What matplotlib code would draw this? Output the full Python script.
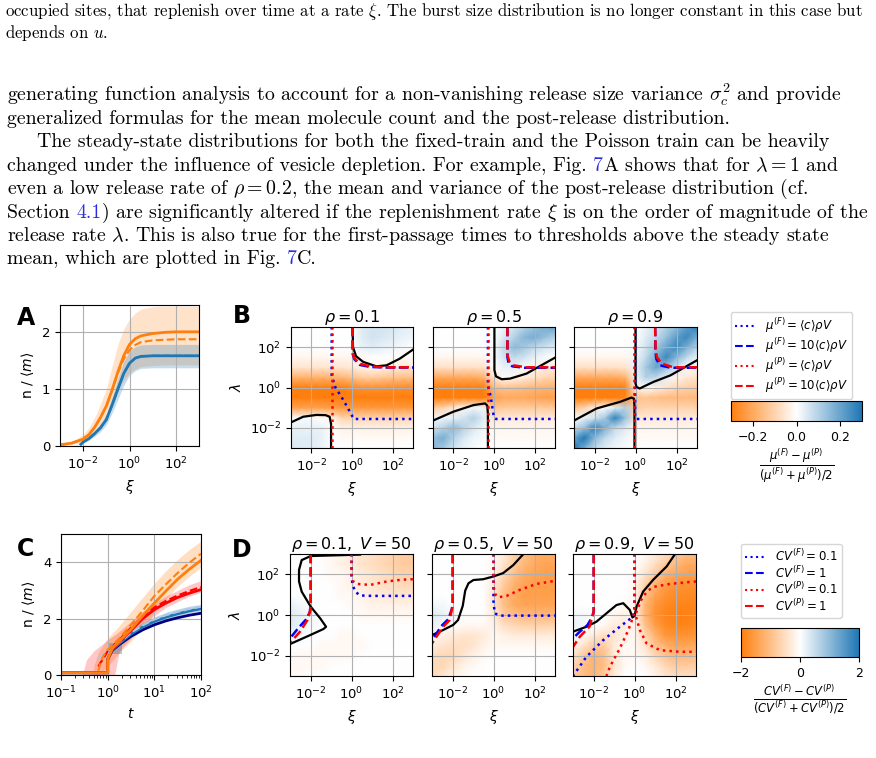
import numpy as np
import matplotlib
matplotlib.use('Agg')
import matplotlib.pyplot as plt
from matplotlib import ticker
from matplotlib.colors import LinearSegmentedColormap, Normalize
from matplotlib.cm import ScalarMappable
from matplotlib.lines import Line2D

# ---------------- page text ----------------
link_blue = '#2b2be0'
caption_size = 12.15
body_size = 14.3
text_lines = [
    (16, 5, caption_size, [("occupied sites, that replenish over time at a rate $\\xi$. The burst size distribution is no longer constant in this case but", 'k')]),
    (38, 5, caption_size, [("depends on $u$.", 'k')]),
    (101, 7, body_size, [("generating function analysis to account for a non-vanishing release size variance $\\sigma_c^2$ and provide", 'k')]),
    (124, 7, body_size, [("generalized formulas for the mean molecule count and the post-release distribution.", 'k')]),
    (147, 37, body_size, [("The steady-state distributions for both the fixed-train and the Poisson train can be heavily", 'k')]),
    (171, 7, body_size, [("changed under the influence of vesicle depletion. For example, Fig. ", 'k'), ("7", link_blue),
                         ("A shows that for $\\lambda = 1$ and", 'k')]),
    (194, 7, body_size, [("even a low release rate of $\\rho = 0.2$, the mean and variance of the post-release distribution (cf.", 'k')]),
    (218, 7, body_size, [("Section ", 'k'), ("4.1", link_blue),
                         (") are significantly altered if the replenishment rate $\\xi$ is on the order of magnitude of the", 'k')]),
    (241, 7, body_size, [("release rate $\\lambda$. This is also true for the first-passage times to thresholds above the steady state", 'k')]),
    (264, 7, body_size, [("mean, which are plotted in Fig. ", 'k'), ("7", link_blue), ("C.", 'k')]),
]

# ---------------- panel A: n/<m> vs xi (log10 xi) ----------------
a_x = [-3, -2.5, -2, -1.75, -1.5, -1.25, -1, -0.75, -0.5, -0.25, 0, 0.25, 0.5, 1, 1.5, 2, 3]
a_orange = [0.02, 0.05, 0.12, 0.2, 0.33, 0.5, 0.7, 0.98, 1.3, 1.58, 1.78, 1.88, 1.93, 1.97, 1.99, 2.0, 2.0]
a_orange_dash = [0.02, 0.05, 0.12, 0.2, 0.33, 0.5, 0.7, 0.98, 1.28, 1.52, 1.68, 1.77, 1.82, 1.85, 1.86, 1.87, 1.87]
a_orange_hi = [0.03, 0.08, 0.2, 0.32, 0.5, 0.74, 1.0, 1.4, 1.78, 2.05, 2.22, 2.33, 2.4, 2.44, 2.45, 2.45, 2.45]
a_orange_lo = [0.01, 0.03, 0.07, 0.12, 0.2, 0.31, 0.45, 0.68, 0.95, 1.15, 1.28, 1.35, 1.39, 1.41, 1.42, 1.42, 1.42]
a_bx = [-2.1, -2, -1.75, -1.5, -1.25, -1, -0.75, -0.5, -0.25, 0, 0.25, 0.5, 1, 2, 3]
a_blue = [0.03, 0.07, 0.13, 0.22, 0.32, 0.46, 0.72, 1.0, 1.27, 1.45, 1.54, 1.57, 1.58, 1.58, 1.58]
a_blue_hi = [0.04, 0.09, 0.16, 0.27, 0.4, 0.56, 0.86, 1.18, 1.48, 1.66, 1.74, 1.77, 1.78, 1.78, 1.78]
a_blue_lo = [0.02, 0.05, 0.1, 0.17, 0.25, 0.37, 0.58, 0.82, 1.06, 1.24, 1.32, 1.36, 1.37, 1.37, 1.37]

# ---------------- panel C: n/<m> vs t (log10 t) ----------------
c_x = [-1, 0, 0, 0.1, 0.25, 0.5, 0.75, 1.0, 1.25, 1.5, 1.75, 2.0]
c_orange = [0.08, 0.08, 0.55, 0.95, 1.2, 1.62, 2.1, 2.55, 2.98, 3.4, 3.75, 4.07]
c_red = [0.08, 0.08, 0.55, 0.92, 1.18, 1.58, 2.0, 2.32, 2.55, 2.75, 2.9, 3.03]
c_blue = [0.08, 0.08, 0.55, 0.9, 1.12, 1.45, 1.7, 1.9, 2.05, 2.17, 2.27, 2.35]
c_navy = [0.08, 0.08, 0.55, 0.88, 1.08, 1.37, 1.6, 1.78, 1.92, 2.03, 2.12, 2.19]
c_dx = [-0.2, -0.15, -0.1, 0, 0.1, 0.25, 0.5, 0.75, 1.0, 1.25, 1.5, 1.75, 2.0]
c_orange_dash = [0.15, 0.45, 0.65, 0.9, 1.05, 1.3, 1.78, 2.28, 2.8, 3.22, 3.62, 3.98, 4.3]
c_red_dash = [0.3, 0.45, 0.55, 0.85, 1.0, 1.25, 1.68, 2.08, 2.4, 2.63, 2.82, 2.98, 3.12]
c_blue_dash = [0.6, 0.65, 0.7, 0.75, 0.92, 1.15, 1.5, 1.76, 1.97, 2.12, 2.24, 2.34, 2.42]
c_obx = [-0.3, -0.2, 0, 0.25, 0.5, 0.75, 1.0, 1.25, 1.5, 1.75, 2.0]
c_orange_hi = [0.3, 0.8, 1.3, 1.75, 2.25, 2.75, 3.25, 3.7, 4.1, 4.45, 4.75]
c_orange_lo = [0, 0, 0.3, 0.8, 1.2, 1.65, 2.2, 2.7, 3.15, 3.5, 3.82]
c_rbx = [-0.545, -0.45, -0.3, -0.15, 0, 0.15, 0.25, 0.5, 0.75, 1.0, 1.25, 1.5, 1.75, 2.0]
c_red_hi = [0, 0.55, 0.85, 1.05, 1.25, 1.42, 1.55, 1.9, 2.25, 2.55, 2.8, 3.0, 3.2, 3.35]
c_red_lo = [0, 0, 0, 0, 0, 0, 0.85, 1.3, 1.75, 2.1, 2.4, 2.6, 2.8, 2.94]
c_bbx = [0, 0.25, 0.5, 0.75, 1.0, 1.25, 1.5, 1.75, 2.0]
c_blue_lo = [0.7, 1.05, 1.38, 1.62, 1.82, 1.97, 2.1, 2.2, 2.27]
c_blue_hi = [0.95, 1.22, 1.58, 1.85, 2.06, 2.22, 2.34, 2.44, 2.5]
c_box_x = [0, 0.3]
c_box_lo = [0.76, 0.76]
c_box_hi = [1.12, 1.12]

# ---------------- heat maps (log10 grid nodes, rows from lambda=1e3 down) ----------------
grid_exp = [-3, -2.5, -2, -1.5, -1, -0.5, 0, 0.5, 1, 1.5, 2, 2.5, 3]

b1_vals = [  # x100
    [0, 0, 0, 0, 0, 0, 0, 4, 6, 6, 5, 4, 3],
    [0, 0, 0, 0, 0, 0, 0, 4, 6, 5, 4, 3, 2],
    [0, 0, 0, 0, 0, 0, 0, 3, 4, 3, 2, 1, 0],
    [-2, -2, -2, -2, -2, -2, -2, -1, 0, 0, 0, -1, -1],
    [-6, -6, -6, -6, -6, -6, -5, -3, -2, -3, -4, -5, -5],
    [-18, -18, -18, -18, -18, -17, -15, -12, -12, -13, -14, -15, -15],
    [-30, -30, -30, -30, -30, -30, -28, -26, -26, -26, -27, -27, -27],
    [-36, -36, -36, -36, -36, -36, -34, -32, -32, -32, -32, -32, -32],
    [-22, -22, -22, -22, -23, -24, -24, -24, -24, -24, -24, -24, -24],
    [1, 1, 1, 0, -3, -10, -10, -10, -10, -10, -10, -10, -10],
    [3, 3, 3, 3, 0, -3, -3, -3, -3, -3, -3, -3, -3],
    [4, 4, 4, 3, 0, -1, -1, -1, -1, -1, -1, -1, -1],
    [5, 4, 4, 3, 0, 0, 0, 0, 0, 0, 0, 0, 0],
]
b2_vals = [
    [0, 0, 0, 0, 0, 0, 0, 3, 6, 10, 14, 18, 20],
    [0, 0, 0, 0, 0, 0, 0, 5, 10, 16, 18, 14, 10],
    [0, 0, 0, 0, 0, 0, 1, 8, 15, 12, 8, 6, 4],
    [-2, -2, -2, -2, -2, -2, 1, 6, 8, 6, 3, 1, 0],
    [-7, -7, -7, -7, -7, -7, 0, 3, 3, 1, -2, -4, -5],
    [-20, -20, -20, -20, -20, -18, -6, -1, -2, -4, -7, -9, -10],
    [-32, -32, -32, -32, -32, -30, -16, -14, -15, -16, -17, -18, -18],
    [-36, -36, -36, -36, -36, -34, -22, -20, -20, -20, -21, -22, -22],
    [-12, -10, -6, -1, 2, 2, -14, -12, -12, -12, -12, -12, -12],
    [2, 2, 3, 6, 10, 4, -6, -5, -5, -5, -5, -5, -5],
    [6, 10, 15, 10, 5, 2, -2, -2, -2, -2, -2, -2, -2],
    [14, 18, 10, 5, 2, 1, -1, -1, -1, -1, -1, -1, -1],
    [16, 12, 6, 3, 1, 0, 0, 0, 0, 0, 0, 0, 0],
]
b3_vals = [
    [0, 0, 0, 0, 0, 0, 0, 3, 6, 10, 15, 22, 28],
    [0, 0, 0, 0, 0, 0, 0, 4, 8, 14, 22, 26, 18],
    [0, 0, 0, 0, 0, 0, 1, 6, 12, 20, 26, 18, 10],
    [-2, -2, -2, -2, -2, -2, 2, 8, 18, 26, 16, 8, 3],
    [-7, -7, -7, -7, -7, -6, 3, 12, 20, 14, 6, 1, -2],
    [-20, -20, -20, -20, -20, -18, 2, 10, 8, 3, -2, -5, -7],
    [-32, -32, -32, -32, -32, -30, -4, 0, -3, -6, -9, -11, -12],
    [-36, -36, -36, -36, -34, -28, -14, -14, -15, -16, -16, -16, -16],
    [-14, -10, -4, 0, 4, 10, -12, -10, -10, -10, -10, -10, -10],
    [0, 3, 6, 12, 28, 14, -5, -5, -5, -5, -5, -5, -5],
    [8, 14, 28, 18, 8, 4, -2, -2, -2, -2, -2, -2, -2],
    [20, 30, 16, 8, 4, 2, -1, -1, -1, -1, -1, -1, -1],
    [30, 18, 8, 4, 2, 1, 0, 0, 0, 0, 0, 0, 0],
]
d1_vals = [  # x10
    [0, 0, 0, 0, -1, -2, -3, -4, -5, -6, -7, -8, -8],
    [0, 0, 0, 0, -1, -2, -3, -4, -5, -6, -7, -8, -8],
    [0, 0, 0, 0, -1, -1, -2, -3, -4, -5, -6, -7, -7],
    [0, 0, 0, 0, 0, -1, -2, -3, -4, -5, -5, -6, -6],
    [0, 0, 0, 0, 0, -1, -1, -2, -3, -3, -4, -4, -4],
    [2, 1, 0, 0, 0, 0, -1, -1, -2, -2, -2, -2, -2],
    [3, 2, 1, 0, 0, 0, 0, -1, -1, -1, -1, -1, -1],
    [3, 2, 1, 0, 0, 0, 0, 0, 0, 0, 0, 0, 0],
    [1, 1, 0, 0, 0, -1, -1, 0, 0, 0, 0, 0, 0],
    [0, 0, 0, -1, -1, -1, -1, -1, 0, 0, 0, 0, 0],
    [-1, -1, -1, -1, -1, -1, -1, 0, 0, 0, 0, 0, 0],
    [-1, -1, -1, -1, 0, 0, 0, 0, 0, 0, 0, 0, 0],
    [-1, -1, 0, 0, 0, 0, 0, 0, 0, 0, 0, 0, 0],
]
d2_vals = [
    [0, 0, 0, 0, 0, 0, -1, -3, -7, -10, -12, -13, -13],
    [0, 0, 0, 0, 0, 0, -1, -4, -8, -11, -13, -14, -14],
    [0, 0, 0, 0, 0, 0, -2, -6, -10, -13, -14, -15, -15],
    [0, 0, 0, 0, 0, 0, -3, -8, -12, -14, -15, -15, -15],
    [0, 0, 0, 0, 0, 0, -4, -10, -13, -15, -15, -15, -15],
    [1, 1, 0, 0, 0, 0, -4, -10, -13, -14, -14, -14, -14],
    [3, 2, 1, 0, 0, 0, -3, -8, -10, -11, -11, -11, -11],
    [2, 1, 0, -1, -1, -1, -2, -5, -6, -7, -7, -7, -7],
    [-1, -2, -3, -4, -4, -3, -1, -2, -3, -3, -3, -3, -3],
    [-3, -4, -5, -5, -4, -2, -1, -1, -1, -1, -1, -1, -1],
    [-5, -6, -6, -4, -2, -1, 0, 0, 0, 0, 0, 0, 0],
    [-6, -6, -4, -2, -1, 0, 0, 0, 0, 0, 0, 0, 0],
    [-6, -4, -2, -1, 0, 0, 0, 0, 0, 0, 0, 0, 0],
]
d3_vals = [
    [0, 0, 0, 0, 0, 0, 0, -1, -3, -5, -8, -10, -11],
    [0, 0, 0, 0, 0, 0, 0, -2, -5, -8, -11, -13, -13],
    [0, 0, 0, 0, 0, 0, -1, -4, -8, -12, -14, -15, -15],
    [0, 0, 0, 0, 0, 0, -1, -7, -12, -15, -17, -17, -17],
    [0, 0, 0, 0, 0, 0, -1, -9, -14, -17, -18, -18, -18],
    [0, 0, 0, 0, 0, -1, -1, -11, -16, -18, -19, -19, -19],
    [1, 1, 0, 0, -1, -2, -1, -11, -17, -19, -20, -20, -19],
    [2, 1, 0, -1, -3, -3, -1, -9, -15, -18, -19, -19, -18],
    [1, -1, -3, -5, -4, -2, -1, -6, -12, -16, -17, -17, -16],
    [-2, -4, -8, -8, -3, -1, -1, -4, -9, -12, -14, -14, -13],
    [-4, -8, -12, -10, -3, -1, -1, -2, -6, -9, -11, -11, -10],
    [-6, -10, -12, -10, -4, -1, 0, -1, -3, -6, -8, -8, -7],
    [-8, -10, -12, -8, -3, 0, 0, 0, -2, -4, -5, -5, -5],
]

# contour-like curves per panel: (colour, style, log10 xi, log10 lambda)
b_curves = [
    [('k', '-', [-3, -2.4, -1.75, -1.3, -1.1, -1.03, -1.03], [-1.73, -1.45, -1.36, -1.37, -1.45, -1.8, -3]),
     ('k', '-', [0.03, 0.05, 0.2, 0.55, 1.2, 1.7, 2.35, 3], [3, 2.0, 1.55, 1.27, 1.05, 1.1, 1.43, 1.88]),
     ('blue', ':', [-1.0, -1.0, -0.98, -0.83, -0.42, 0.03, 0.1, 3], [3, 0.6, 0.53, 0.03, -0.63, -1.45, -1.56, -1.56]),
     ('blue', '--', [0.03, 0.03, 0.12, 0.39, 0.88, 1.7, 3], [3, 1.68, 1.4, 1.12, 1.02, 0.99, 0.99]),
     ('red', ':', [-1.0, -1.0], [-3, 3]),
     ('red', '--', [0.03, 0.03, 0.12, 0.39, 0.88, 1.7, 3], [3, 1.7, 1.45, 1.18, 1.05, 1.0, 1.0])],
    [('k', '-', [-3, -2, -1, -0.44, -0.33, -0.3, -0.3], [-1.64, -1.2, -0.87, -0.79, -0.9, -1.3, -3]),
     ('k', '-', [0.02, 0.02, 0.1, 0.38, 0.79, 1.6, 3], [3, 0.86, 0.55, 0.41, 0.44, 0.69, 1.48]),
     ('blue', ':', [-0.3, -0.3, -0.16, -0.05, 0.0, 0.1, 3], [3, 0.1, -0.46, -1.2, -1.5, -1.56, -1.56]),
     ('blue', '--', [0.66, 0.66, 0.72, 0.9, 1.5, 3], [3, 1.5, 1.2, 1.05, 0.98, 0.98]),
     ('red', ':', [-0.3, -0.3], [-3, 3]),
     ('red', '--', [0.66, 0.66, 0.75, 0.95, 1.6, 3], [3, 1.6, 1.3, 1.1, 1.0, 1.0])],
    [('k', '-', [-3, -1.9, -0.75, -0.2, -0.08, -0.05, -0.05], [-1.64, -1.04, -0.71, -0.5, -0.55, -0.9, -3]),
     ('k', '-', [0.0, 0.0, 0.05, 0.2, 0.88, 1.7, 3], [3, 0.2, 0.03, -0.05, 0.28, 0.6, 1.35]),
     ('blue', ':', [-0.02, -0.02, 0.05, 3], [3, -1.45, -1.56, -1.56]),
     ('blue', '--', [0.96, 0.97, 1.02, 1.2, 1.7, 3], [3, 1.8, 1.4, 1.1, 0.98, 0.98]),
     ('red', ':', [-0.05, -0.05], [-3, 3]),
     ('red', '--', [0.96, 0.98, 1.05, 1.29, 1.86, 3], [3, 1.9, 1.5, 1.18, 1.0, 1.0])],
]
d_curves = [
    [('k', '-', [0.42, -1.99, -2.43, -2.56, -2.56, -2.43, -1.99, -1.53, -1.24, -1.37, -2.02, -3],
      [2.97, 2.9, 2.7, 2.22, 1.65, 1.15, 0.41, -0.16, -0.58, -0.69, -0.99, -1.43]),
     ('blue', ':', [0.0, 0.0, 0.05, 0.18, 0.42, 1.0, 3], [3, 1.9, 1.5, 1.15, 0.96, 0.94, 0.94]),
     ('blue', '--', [-1.99, -1.99, -2.03, -2.2, -2.6, -3], [3, 0.6, 0.15, -0.2, -0.65, -1.15]),
     ('red', ':', [0.0, 0.0, 0.08, 0.26, 0.91, 1.73, 2.38, 3], [3, 2.0, 1.65, 1.53, 1.48, 1.65, 1.73, 1.76]),
     ('red', '--', [-1.99, -1.99, -2.02, -2.15, -2.51, -3], [3, 0.6, 0.2, -0.25, -0.82, -1.37])],
    [('k', '-', [-3, -2.46, -1.97, -1.73, -1.5, -1.38, -1.22, -0.98, -0.5, -0.02, 0.47, 0.96, 1.46],
      [-0.99, -0.74, -0.49, -0.25, 0.45, 1.2, 1.56, 1.72, 1.76, 1.89, 2.06, 2.45, 3]),
     ('blue', ':', [0.0, 0.0, 0.07, 0.3, 3], [3, 0.58, 0.08, -0.03, -0.03]),
     ('blue', '--', [-1.99, -1.99, -2.03, -2.2, -2.55, -3], [3, 0.6, 0.3, -0.2, -0.55, -1.25]),
     ('red', ':', [0.0, 0.0, 0.1, 0.23, 0.64, 1.29, 2.11, 3], [3, 1.4, 1.0, 0.87, 0.94, 1.24, 1.53, 1.68]),
     ('red', '--', [-1.99, -1.99, -2.02, -2.14, -2.46, -3], [3, 0.6, 0.33, -0.25, -0.58, -1.4])],
    [('k', '-', [-3, -2.35, -1.86, -1.37, -0.88, -0.55, -0.23, -0.1, 0.0, 0.1, 0.42, 0.91, 1.57, 1.98],
      [-0.82, -0.58, -0.33, 0.08, 0.49, 0.58, 0.25, -0.12, -0.05, 0.41, 1.15, 1.73, 2.39, 3]),
     ('blue', ':', [0.0, 0.0, -0.07, -0.72, -1.53, -2.35, -3], [3, 0.25, -0.08, -0.58, -1.24, -2.06, -3.0]),
     ('blue', '--', [-1.99, -1.99, -2.06, -2.3, -2.7, -3], [3, 0.2, -0.1, -0.5, -0.85, -1.15]),
     ('red', ':', [0.0, 0.0, -0.05, -0.3, -0.72, -1.2, -1.37], [3, 0.3, -0.05, -0.74, -1.65, -2.55, -3]),
     ('red', ':', [0.08, 0.26, 0.59, 1.24, 2.22, 3], [-0.1, -0.74, -1.4, -1.73, -1.81, -1.81]),
     ('red', ':', [0.08, 0.3, 0.6, 0.91, 1.73, 2.55, 3], [0.1, 0.7, 1.15, 1.38, 1.53, 1.61, 1.65]),
     ('red', '--', [-1.99, -1.99, -2.05, -2.2, -2.67, -3], [3, 0.2, -0.08, -0.58, -1.07, -1.57])],
]
b_titles = [r'$\rho = 0.1$', r'$\rho = 0.5$', r'$\rho = 0.9$']
d_titles = [r'$\rho = 0.1,\ V = 50$', r'$\rho = 0.5,\ V = 50$', r'$\rho = 0.9,\ V = 50$']
b_legend = [r'$\mu^{(F)} = \langle c\rangle\rho V$', r'$\mu^{(F)} = 10\langle c\rangle\rho V$',
            r'$\mu^{(P)} = \langle c\rangle\rho V$', r'$\mu^{(P)} = 10\langle c\rangle\rho V$']
d_legend = [r'$CV^{(F)} = 0.1$', r'$CV^{(F)} = 1$', r'$CV^{(P)} = 0.1$', r'$CV^{(P)} = 1$']
b_cbar_ticks = [-0.2, 0.0, 0.2]
d_cbar_ticks = [-2, 0, 2]

# ---------------- figure ----------------
plt.rcParams['xtick.labelsize'] = 9.5
plt.rcParams['ytick.labelsize'] = 9.5
plt.rcParams['grid.color'] = '#b0b0b0'
plt.rcParams['grid.linewidth'] = 0.8

W, H = 876, 758
fig = plt.figure(figsize=(W / 100, H / 100), dpi=100)
renderer = fig.canvas.get_renderer()
orange, blue = '#ff7f0e', '#1f77b4'
cmap = LinearSegmentedColormap.from_list('ow_b', [orange, 'white', blue])


def px_axes(x0, y0, x1, y1):
    return fig.add_axes([x0 / W, 1 - y1 / H, (x1 - x0) / W, (y1 - y0) / H])


def text_width(s, size):
    t = fig.text(0, 0, s, fontsize=size, family='cmr10', math_fontfamily='cm')
    w = t.get_window_extent(renderer).width
    t.remove()
    return w


# each line: segments placed left to right; the start of a segment is found by
# measuring the preceding text plus the segment's first (plain) character
for base, x0, size, parts in text_lines:
    prefix = ''
    for s, col in parts:
        if prefix:
            c = s[0]
            left = x0 + text_width(prefix + c, size) - text_width(c, size)
        else:
            left = x0
        fig.text(left / W, 1 - base / H, s, fontsize=size, family='cmr10',
                 math_fontfamily='cm', color=col, ha='left', va='baseline')
        prefix += s


def pow10(v):
    return 10 ** np.asarray(v, dtype=float)


def log_axes_style(ax, base=100):
    ax.set_xscale('log')
    ax.xaxis.set_major_locator(ticker.LogLocator(base=base))
    ax.xaxis.set_minor_locator(ticker.NullLocator())
    ax.grid(True)


# panel A
axA = px_axes(60, 305, 199, 446)
log_axes_style(axA)
axA.fill_between(pow10(a_x), a_orange_lo, a_orange_hi, color=orange, alpha=0.22, lw=0)
axA.fill_between(pow10(a_bx), a_blue_lo, a_blue_hi, color=blue, alpha=0.25, lw=0)
axA.plot(pow10(a_bx), a_blue, color=blue, lw=2)
axA.plot(pow10(a_bx), a_blue, color=blue, lw=1.5, ls='--')
axA.plot(pow10(a_x), a_orange, color=orange, lw=2)
axA.plot(pow10(a_x), a_orange_dash, color=orange, lw=1.5, ls='--')
axA.set_xlim(1e-3, 1e3)
axA.set_ylim(0, 2.47)
axA.set_yticks([0, 1, 2])
axA.set_xlabel(r'$\xi$', fontsize=10)
axA.set_ylabel(r'n / $\langle m\rangle$', fontsize=10)

# panel C
axC = px_axes(61, 534, 201, 675)
axC.set_xscale('log')
axC.grid(True, which='major')
axC.fill_between(pow10(c_obx), c_orange_lo, c_orange_hi, color=orange, alpha=0.25, lw=0)
axC.fill_between(pow10(c_rbx), c_red_lo, c_red_hi, color='red', alpha=0.22, lw=0)
axC.fill_between(pow10(c_bbx), c_blue_lo, c_blue_hi, color=blue, alpha=0.3, lw=0)
axC.fill_between(pow10(c_box_x), c_box_lo, c_box_hi, color=blue, alpha=0.35, lw=0)
axC.plot(pow10(c_x), c_navy, color='navy', lw=2)
axC.plot(pow10(c_x), c_blue, color=blue, lw=2)
axC.plot(pow10(c_dx), c_blue_dash, color='#aec7e8', lw=1.5, ls='--')
axC.plot(pow10(c_x), c_red, color='red', lw=2)
axC.plot(pow10(c_dx), c_red_dash, color='red', lw=1.5, ls='--')
axC.plot(pow10(c_x), c_orange, color=orange, lw=2)
axC.plot(pow10(c_dx), c_orange_dash, color=orange, lw=1.5, ls='--')
axC.set_xlim(0.1, 100)
axC.set_ylim(0, 5)
axC.set_yticks([0, 2, 4])
axC.set_xlabel(r'$t$', fontsize=10)
axC.set_ylabel(r'n / $\langle m\rangle$', fontsize=10)

# heat map rows
gx = pow10(grid_exp)


def heat_panel(box, vals, scale, vmax, curves, title, first):
    ax = px_axes(*box)
    z = np.array(vals, dtype=float)[::-1] / scale
    ax.pcolormesh(gx, gx, z, shading='gouraud', cmap=cmap, vmin=-vmax, vmax=vmax, zorder=0)
    log_axes_style(ax)
    ax.set_yscale('log')
    ax.yaxis.set_major_locator(ticker.LogLocator(base=100))
    ax.yaxis.set_minor_locator(ticker.NullLocator())
    for col, ls, xs, ys in curves:
        lw = 1.6 if ls == '-' else 1.8
        ax.plot(pow10(xs), pow10(ys), color=col, ls=ls, lw=lw)
    ax.set_xlim(1e-3, 1e3)
    ax.set_ylim(1e-3, 1e3)
    ax.set_title(title, fontsize=11.5, pad=3)
    ax.set_xlabel(r'$\xi$', fontsize=10)
    if first:
        ax.set_ylabel(r'$\lambda$', fontsize=10)
    else:
        ax.tick_params(labelleft=False)
    return ax


b_boxes = [(291, 327, 413, 448), (433, 327, 555, 448), (574, 327, 697, 448)]
d_boxes = [(290, 554, 413, 676), (432, 554, 555, 676), (573, 554, 696, 676)]
for i, vals in enumerate([b1_vals, b2_vals, b3_vals]):
    heat_panel(b_boxes[i], vals, 100, 0.3, b_curves[i], b_titles[i], i == 0)
for i, vals in enumerate([d1_vals, d2_vals, d3_vals]):
    heat_panel(d_boxes[i], vals, 10, 2.0, d_curves[i], d_titles[i], i == 0)

# legends
styles = [('blue', ':'), ('blue', '--'), ('red', ':'), ('red', '--')]
handles = [Line2D([], [], color=c, ls=s, lw=1.5) for c, s in styles]
fig.legend(handles, b_legend, loc='upper left', bbox_to_anchor=(731 / W, 1 - 312 / H),
           fontsize=8.5, borderaxespad=0, handlelength=1.8, handletextpad=0.7,
           labelspacing=0.1, borderpad=0.35)
fig.legend(handles, d_legend, loc='upper left', bbox_to_anchor=(741 / W, 1 - 544 / H),
           fontsize=8.5, borderaxespad=0, handlelength=1.8, handletextpad=0.7,
           labelspacing=0.05, borderpad=0.35)

# colour bars
caxB = px_axes(731, 401, 862, 421)
cb = fig.colorbar(ScalarMappable(Normalize(-0.3, 0.3), cmap), cax=caxB, orientation='horizontal',
                  ticks=b_cbar_ticks)
cb.ax.tick_params(labelsize=9)
cb.set_label(r'$\frac{\mu^{(F)} - \mu^{(P)}}{(\mu^{(F)} + \mu^{(P)})/2}$', fontsize=12, labelpad=2)
caxD = px_axes(741, 628, 859, 657)
cb = fig.colorbar(ScalarMappable(Normalize(-2, 2), cmap), cax=caxD, orientation='horizontal',
                  ticks=d_cbar_ticks)
cb.ax.tick_params(labelsize=9)
cb.set_label(r'$\frac{CV^{(F)} - CV^{(P)}}{(CV^{(F)} + CV^{(P)})/2}$', fontsize=12, labelpad=2)

# panel letters
for letter, x, y in [('A', 17, 325), ('B', 233, 323), ('C', 17, 556), ('D', 232, 557)]:
    fig.text(x / W, 1 - y / H, letter, fontsize=17, fontweight='bold', va='baseline')

fig.savefig('out.png', dpi=100)
